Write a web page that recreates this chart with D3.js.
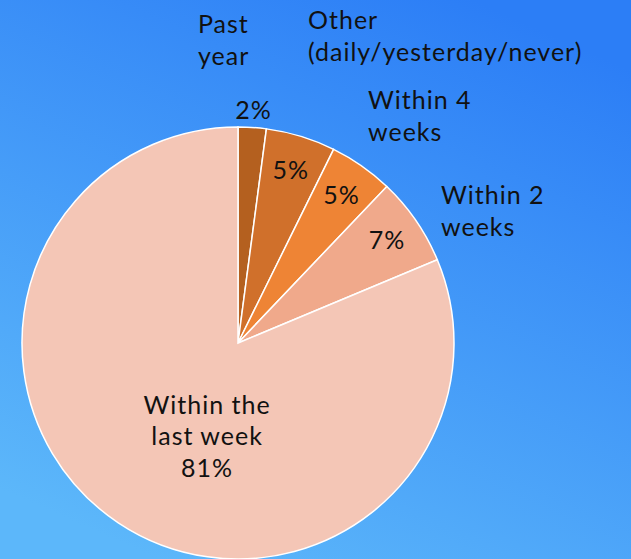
<!DOCTYPE html>
<html>
<head>
<meta charset="utf-8">
<script src="https://cdn.jsdelivr.net/npm/d3@7"></script>
<style>
  html, body { margin: 0; padding: 0; overflow: hidden; }
  text { font-family: Lato, "DejaVu Sans", sans-serif; fill: #111; letter-spacing: 1px; }
</style>
</head>
<body>
<div id="chart"></div>
<script>
// slice data, clockwise from 12 o'clock
const categories = ["Past year", "Other (daily/yesterday/never)", "Within 4 weeks", "Within 2 weeks", "Within the last week"];
const shares = [2.1, 5.2, 4.8, 6.6, 81.3];
const colors = ["#b4601f", "#d0702b", "#ee8435", "#f0a98b", "#f4c6b6"];

// how the category text wraps
const calloutLines = [["Past", "year"], ["Other", "(daily/yesterday/never)"], ["Within 4", "weeks"], ["Within 2", "weeks"], ["Within the", "last week"]];

const width = 631;
const height = 559;
const radius = 216;
const cx = 238, cy = 343;
const fontSize = 25;
const lineGap = 31.5;

const svg = d3
  .select("#chart")
  .append("svg")
  .attr("width", width)
  .attr("height", height);

// blue backdrop, darker at the top right
const grad = svg.append("defs").append("linearGradient")
  .attr("id", "bg")
  .attr("x1", 0.75).attr("y1", 0)
  .attr("x2", 0.25).attr("y2", 1);
grad.append("stop").attr("offset", 0).attr("stop-color", "#2c7ef6");
grad.append("stop").attr("offset", 1).attr("stop-color", "#5cb7fa");

svg.append("rect")
  .attr("width", width)
  .attr("height", height)
  .attr("fill", "url(#bg)");

const g = svg.append("g").attr("transform", "translate(" + cx + "," + cy + ")");

const data = categories.map((c, i) => ({ name: c, value: shares[i], color: colors[i], lines: calloutLines[i] }));

const pie = d3.pie().sort(null).value((d) => d.value);
const arc = d3.arc().innerRadius(0).outerRadius(radius);
const arcs = pie(data);

g.selectAll("path")
  .data(arcs)
  .enter()
  .append("path")
  .attr("d", arc)
  .attr("fill", (d) => d.data.color)
  .attr("stroke", "#fff")
  .attr("stroke-width", 1.5);

// percent labels: distance from centre, and a nudge for the big slice
const pctRadius = [234, 181, 181, 181, 98];
const pctShift = [0, 0, 0, 0, -15.3];

function labelPoint(d, i) {
  const a = (d.startAngle + d.endAngle) / 2 + pctShift[i] * Math.PI / 180;
  return [pctRadius[i] * Math.sin(a), -pctRadius[i] * Math.cos(a)];
}

const capHalf = 9;

// the small slices: percent inside / just above the wedge
g.selectAll("text.pct")
  .data(arcs.slice(0, 4))
  .enter()
  .append("text")
  .attr("class", "pct")
  .attr("text-anchor", "middle")
  .attr("font-size", fontSize)
  .attr("x", (d, i) => labelPoint(d, i)[0])
  .attr("y", (d, i) => labelPoint(d, i)[1] + capHalf)
  .text((d) => Math.round(d.data.value) + "%");

// the big slice gets name and percent together
const big = arcs[4];
const bp = labelPoint(big, 4);
const bigLines = big.data.lines.concat([Math.round(big.data.value) + "%"]);
g.append("text")
  .attr("text-anchor", "middle")
  .attr("font-size", fontSize)
  .selectAll("tspan")
  .data(bigLines)
  .enter()
  .append("tspan")
  .attr("x", bp[0])
  .attr("y", (d, i) => bp[1] + capHalf + (i - 1) * lineGap)
  .text((d) => d);

// category callouts outside the pie, left aligned (offsets from pie centre)
const calloutPos = [[-40, -310], [70, -314], [130, -234], [203, -139]];

g.selectAll("text.callout")
  .data(data.slice(0, 4))
  .enter()
  .append("text")
  .attr("class", "callout")
  .attr("font-size", fontSize)
  .each(function (d, i) {
    d3.select(this)
      .selectAll("tspan")
      .data(d.lines)
      .enter()
      .append("tspan")
      .attr("x", calloutPos[i][0])
      .attr("y", (t, j) => calloutPos[i][1] + j * lineGap)
      .text((t) => t);
  });
</script>
</body>
</html>
